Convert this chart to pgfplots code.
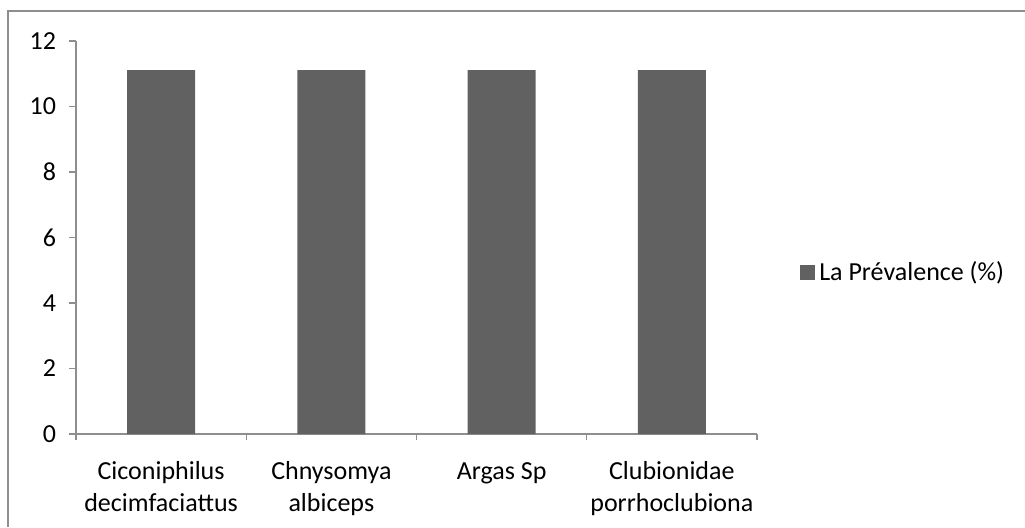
\documentclass[border=0pt]{standalone}
\usepackage{pgfplots}
\pgfplotsset{compat=1.18}
\usepackage{fontspec}
\setmainfont{Carlito}
\definecolor{barc}{HTML}{616161}
\definecolor{axc}{HTML}{8E8E8E}
\begin{document}
\fontsize{13pt}{16pt}\selectfont
\begin{tikzpicture}
\useasboundingbox (0,0) rectangle (512.5pt,-263.5pt);
\draw[axc, line width=0.9pt] (4pt,-263.5pt) -- (4pt,-5.5pt) -- (512.5pt,-5.5pt);
\begin{axis}[
  at={(38pt,-217pt)}, anchor=south west,
  scale only axis, width=340.5pt, height=196.5pt,
  ymin=0, ymax=12, ytick={0,2,4,6,8,10,12},
  xmin=-0.5, xmax=3.5,
  xtick={0,1,2,3},
  xticklabels={{Ciconiphilus\\decimfaciattus},{Chnysomya\\albiceps},{\vphantom{l}Argas Sp},{Clubionidae\\porrhoclubiona}},
  minor xtick={-0.5,0.5,1.5,2.5,3.5},
  axis x line*=bottom, axis y line*=left,
  axis line style={axc, line width=0.7pt},
  tick style={axc, line width=0.7pt},
  tick align=outside,
  major x tick style={draw=none},
  minor tick length=3pt, major tick length=3.5pt,
  xticklabel style={align=center, font=\fontsize{13pt}{16pt}\selectfont, yshift=-5.5pt},
  yticklabel style={font=\fontsize{13pt}{16pt}\selectfont, xshift=-2pt},
  /pgf/number format/assume math mode=true,
  ybar, bar width=34pt,
  legend style={at={(1.063,0.41)}, anchor=west, draw=none, fill=none,
    font=\fontsize{13pt}{16pt}\selectfont, inner sep=0pt,
    /tikz/every even column/.append style={column sep=0pt}},
  legend image code/.code={\fill[barc] (0pt,-3.75pt) rectangle (7.5pt,3.75pt);},
  legend cell align=left,
]
\addplot[fill=barc, draw=none] coordinates {(0,11.11) (1,11.11) (2,11.11) (3,11.11)};
\addlegendentry{La Prévalence (\%)}
\end{axis}
\end{tikzpicture}
\end{document}
